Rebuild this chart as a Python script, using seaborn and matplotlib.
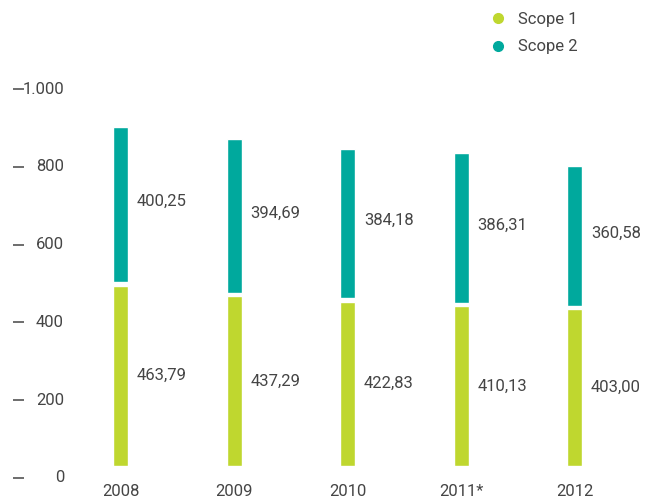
import pandas as pd
import seaborn as sns
import matplotlib.pyplot as plt
import matplotlib.transforms as mtransforms
from matplotlib.lines import Line2D

years = ['2008', '2009', '2010', '2011*', '2012']
scope1 = [463.79, 437.29, 422.83, 410.13, 403.00]
scope2 = [400.25, 394.69, 384.18, 386.31, 360.58]
yticks = [0, 200, 400, 600, 800, 1000]
ytick_labels = ['0', '200', '400', '600', '800', '1.000']

green = '#bfd72f'
teal = '#00a99d'
txt = '#454545'
gap = 8
fs = 12

sns.set_style('white')
plt.rcParams['font.family'] = ['Roboto', 'DejaVu Sans']

df = pd.DataFrame({'year': years, 's1': scope1, 's2': scope2})
df['gap_top'] = df['s1'] + gap
df['total'] = df['gap_top'] + df['s2']

fig = plt.figure(figsize=(6.61, 5.04), dpi=100)
ax = fig.add_axes([75 / 661, 38 / 504, 565 / 661, 389 / 504])

# layered bars: teal full stack, white gap, green scope 1
sns.barplot(data=df, x='year', y='total', color=teal, width=0.132, saturation=1, ax=ax)
sns.barplot(data=df, x='year', y='gap_top', color='white', width=0.132, saturation=1, ax=ax)
sns.barplot(data=df, x='year', y='s1', color=green, width=0.132, saturation=1, ax=ax)

ax.set_xlim(-0.405, 4.573)
ax.set_ylim(0, 1000)
sns.despine(ax=ax, left=True, bottom=True)
ax.set_xlabel('')
ax.set_ylabel('')
ax.tick_params(axis='x', length=0, pad=13, labelsize=fs, labelcolor=txt)
ax.set_yticks([])

# y scale labels sit a bit below their true value in the original
shift = mtransforms.ScaledTranslation(0, -12 / 100, fig.dpi_scale_trans)
trans = mtransforms.blended_transform_factory(fig.transFigure, ax.transData) + shift
for v, lab in zip(yticks, ytick_labels):
    ax.plot([13 / 661, 24 / 661], [v, v], transform=trans, color=txt, lw=1.1,
            clip_on=False, solid_capstyle='butt')
    ax.text(64 / 661, v, lab, transform=trans, ha='right', va='center',
            fontsize=fs, color=txt, clip_on=False)

def fmt(v):
    return f'{v:.2f}'.replace('.', ',')

for i, row in df.iterrows():
    ax.annotate(fmt(row['s1']), (i + 0.066, row['s1'] / 2), xytext=(6, 0),
                textcoords='offset points', va='center', ha='left',
                fontsize=fs, color=txt)
    ax.annotate(fmt(row['s2']), (i + 0.066, row['gap_top'] + row['s2'] / 2 + 8),
                xytext=(6, 0), textcoords='offset points', va='center', ha='left',
                fontsize=fs, color=txt)

handles = [Line2D([], [], marker='o', ls='', color=green, markersize=7),
           Line2D([], [], marker='o', ls='', color=teal, markersize=7)]
fig.legend(handles, ['Scope 1', 'Scope 2'], loc='upper left',
           bbox_to_anchor=(473 / 661, 1 + 3 / 504), frameon=False,
           fontsize=fs, labelcolor=txt, handletextpad=0.6, labelspacing=0.75,
           handlelength=1.2)

fig.savefig('out.png', dpi=100)
